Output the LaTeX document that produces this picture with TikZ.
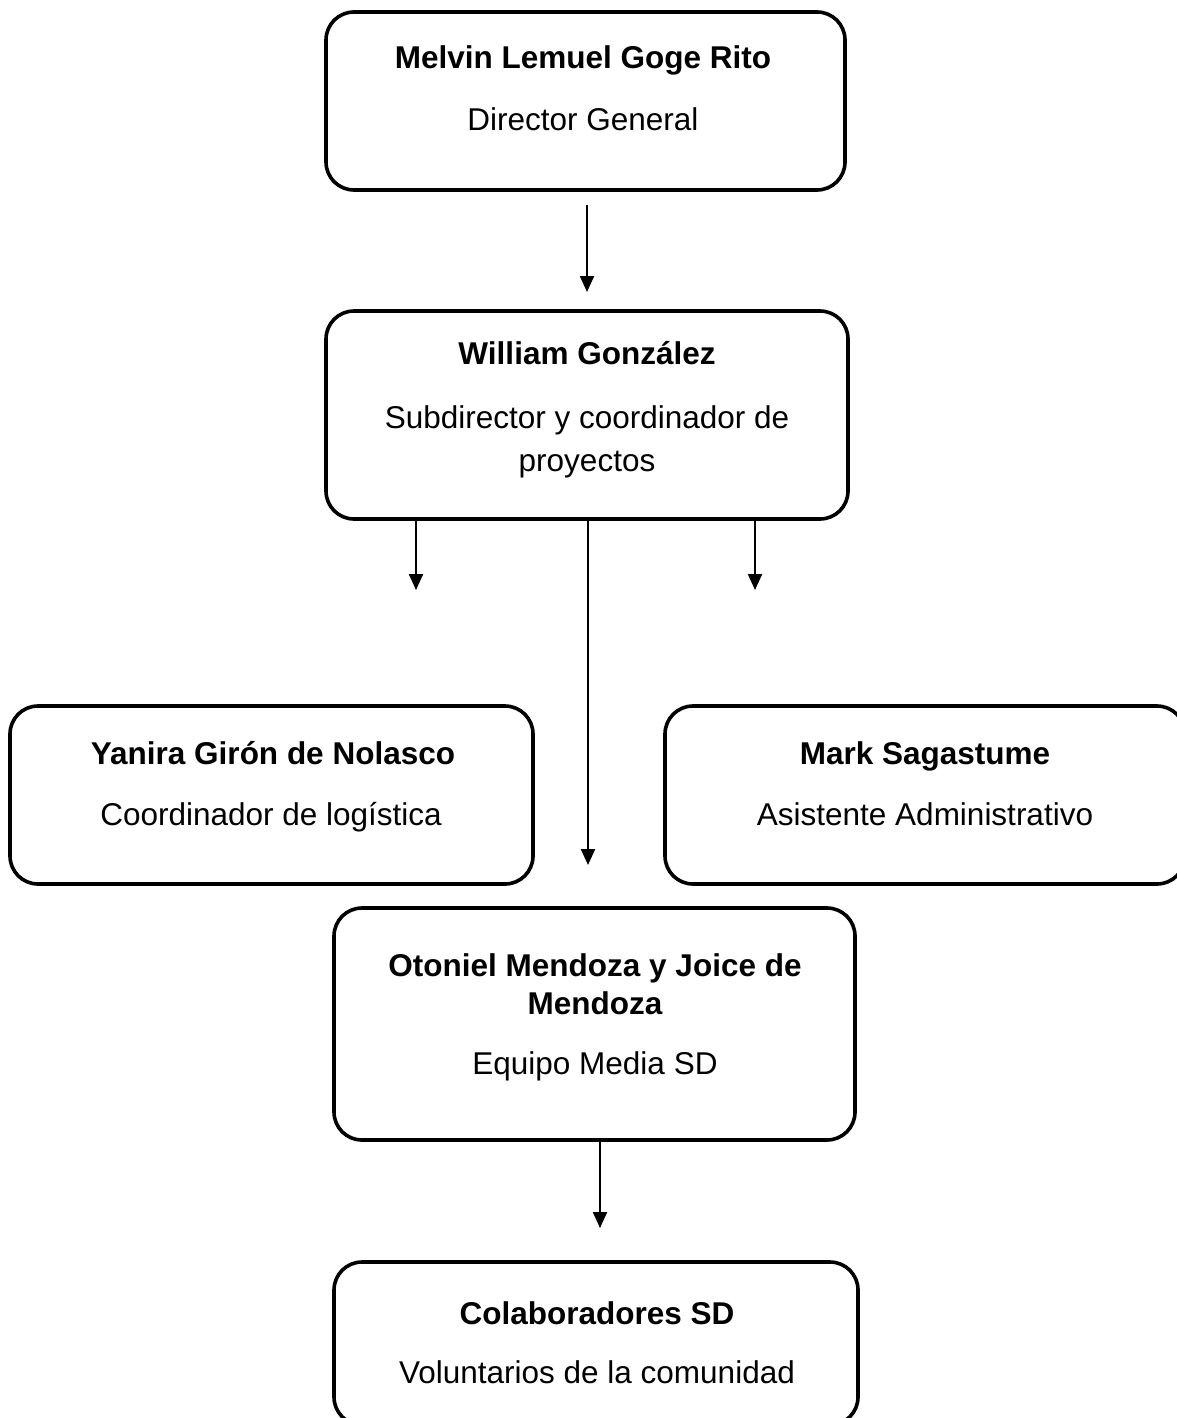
\documentclass[tikz,border=0pt]{standalone}
\usepackage{fontspec}
\setmainfont{Liberation Sans}
\usetikzlibrary{arrows.meta}
\begin{document}
\begin{tikzpicture}[x=1pt,y=-1pt,
  box/.style={draw=black, line width=3.6pt, rounded corners=28pt, inner sep=0pt},
  ttl/.style={anchor=base, inner sep=0pt, font=\fontsize{31.5}{38}\selectfont\bfseries},
  sub/.style={anchor=base, inner sep=0pt, font=\fontsize{31.5}{38}\selectfont},
  arr/.style={line width=2.2pt, -{Triangle[width=14pt,length=16pt]}}
]
\useasboundingbox (0,0) rectangle (1177,1418);
\clip (0,0) rectangle (1177,1418);

% boxes
\node[box, minimum width=519pt, minimum height=178pt] (b1) at (585.5,101) {};
\node[box, minimum width=522pt, minimum height=208pt] (b2) at (587,415) {};
\node[box, minimum width=523pt, minimum height=178pt] (b3) at (271.5,795) {};
\node[box, minimum width=520pt, minimum height=178pt] (b4) at (925,795) {};
\node[box, minimum width=521pt, minimum height=232pt] (b5) at (594.5,1024) {};
\node[box, minimum width=524pt, minimum height=163pt] (b6) at (596,1343.5) {};

% texts
\node[ttl] (t1a) at (583,69) {Melvin Lemuel Goge Rito};
\node[sub] (t1b) at (583,131) {Director General};

\node[ttl] (t2a) at (587,364) {William González};
\node[sub] (t2b) at (587,428) {Subdirector y coordinador de};
\node[sub] (t2c) at (587,471) {proyectos};

\node[ttl] (t3a) at (273,764) {Yanira Girón de Nolasco};
\node[sub] (t3b) at (271,825) {Coordinador de logística};

\node[ttl] (t4a) at (925,764) {Mark Sagastume};
\node[sub] (t4b) at (925,825) {Asistente Administrativo};

\node[ttl] (t5a) at (595,976) {Otoniel Mendoza y Joice de};
\node[ttl] (t5b) at (595,1014) {Mendoza};
\node[sub] (t5c) at (595,1074) {Equipo Media SD};

\node[ttl] (t6a) at (597,1324) {Colaboradores SD};
\node[sub] (t6b) at (597,1383) {Voluntarios de la comunidad};

% arrow end points
\coordinate (s1) at (587,205);
\coordinate (e1) at (587,292);
\coordinate (s2l) at (416,519);
\coordinate (e2l) at (416,590);
\coordinate (s2r) at (755,519);
\coordinate (e2r) at (755,590);
\coordinate (s2m) at (588,519);
\coordinate (e2m) at (588,865);
\coordinate (s5) at (600,1140);
\coordinate (e5) at (600,1228);

% connectors
\draw[arr] (s1) -- (e1);
\draw[arr] (b2.south -| s2l) -- (e2l);
\draw[arr] (b2.south -| s2r) -- (e2r);
\draw[arr] (b2.south -| s2m) -- (e2m);
\draw[arr] (b5.south -| s5) -- (e5);
\end{tikzpicture}
\end{document}
